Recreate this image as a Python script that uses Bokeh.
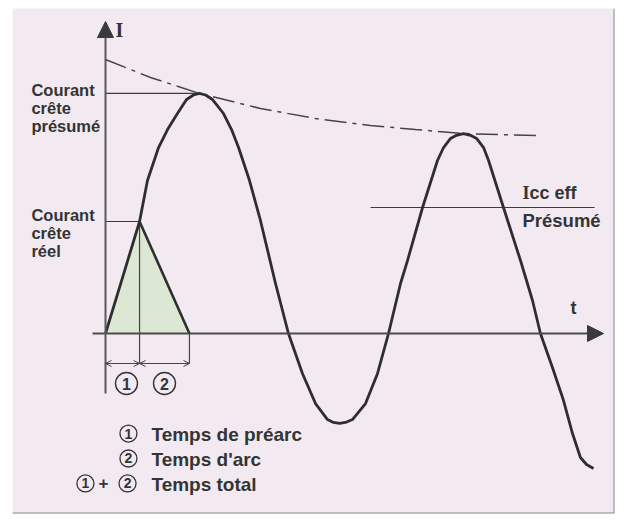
from bokeh.plotting import figure
from bokeh.models import Range1d, Arrow, NormalHead, OpenHead, Span
from bokeh.core.properties import value
from bokeh.embed import file_html
from bokeh.resources import INLINE

# ---- data (t in ms, I in kA) ----
curve_t = [0, 1.29, 2.58, 3.18, 4.02, 4.70, 5.45, 6.14, 6.67, 7.12, 7.58, 8.11, 8.94,
           9.55, 10.08, 10.91, 11.74, 12.88, 13.86, 14.92, 15.91, 16.82, 17.27, 17.73,
           18.18, 18.71, 19.70, 20.61, 21.44, 22.35, 22.88, 24.02, 25.15, 25.61, 26.14,
           26.59, 27.12, 27.65, 28.11, 28.64, 29.02, 30.15, 31.44, 32.35, 32.95, 33.86,
           34.70, 35.38, 35.98, 36.44, 36.97]
curve_i = [0, 4.44, 8.89, 12.14, 14.76, 16.19, 17.46, 18.57, 18.93, 19.05, 18.93, 18.57, 17.46,
           16.19, 14.76, 12.14, 8.97, 3.97, 0, -3.17, -5.56, -6.83, -7.06, -7.14,
           -7.06, -6.83, -5.56, -3.17, 0, 3.97, 5.79, 10.0, 13.73, 14.76, 15.48,
           15.73, 15.87, 15.73, 15.48, 14.76, 13.73, 10.0, 5.79, 2.62, 0, -2.70,
           -5.32, -7.94, -9.84, -10.40, -10.71]

env_t = [0, 3.41, 7.12, 11.74, 15.91, 20.08, 23.49, 27.12, 32.80]
env_i = [21.75, 20.32, 19.05, 17.86, 17.06, 16.51, 16.19, 15.87, 15.71]

peak_presume_t = 7.12
peak_presume_i = 19.05
peak_reel_t = 2.58
peak_reel_i = 8.89
arc_end_t = 6.36
icc_eff_i = 10.0
icc_line_t = [20.08, 37.05]

t_axis = [-0.98, 37.73]
i_axis = [-4.76, 24.76]
dim_i = -2.38

left_labels = ["Courant", "crête", "présumé", "Courant", "crête", "réel"]
left_labels_t = [-5.61] * 6
left_labels_i = [19.29, 17.86, 16.43, 9.37, 7.94, 6.51]

diag_digits = ["1", "2"]
diag_digits_t = [1.59, 4.47]
diag_digits_i = [-3.97, -3.97]

leg_digits = ["1", "2", "1", "2"]
leg_digits_t = [1.74, 1.74, -1.52, 1.67]
leg_digits_i = [-7.94, -9.92, -11.90, -11.90]
leg_text = ["Temps de préarc", "Temps d'arc", "Temps total"]
leg_text_t = [3.48, 3.48, 3.48]
leg_text_i = [-8.01, -10.00, -11.98]
plus_t, plus_i = -0.15, -11.90

# ---- figure ----
INK = "#2e2e2e"
TXT = "#343434"
FONT = value("Liberation Sans")
SERIF = value("Liberation Serif")

p = figure(width=622, height=520, output_backend="svg", toolbar_location=None,
           x_range=Range1d(-7.045, 38.561), y_range=Range1d(-14.286, 25.794),
           x_axis_location=None, y_axis_location=None,
           min_border_left=12, min_border_right=8, min_border_top=8, min_border_bottom=7)
p.grid.visible = False
p.background_fill_color = "#f2eaf0"
p.border_fill_color = "white"
p.outline_line_color = None
p.add_layout(Span(location=38.561, dimension="height", line_color="#8a8a8a", line_width=2))
p.add_layout(Span(location=-14.286, dimension="width", line_color="#8a8a8a", line_width=2))

# triangle (arc energy) fill
p.patch([0, peak_reel_t, arc_end_t], [0, peak_reel_i, 0], fill_color="#dde8d4",
        line_color=None)

# axes with arrows
p.add_layout(Arrow(end=NormalHead(size=16, fill_color="#3a3a3a", line_color="#3a3a3a"),
                   x_start=t_axis[0], y_start=0, x_end=t_axis[1], y_end=0,
                   line_color="#4a4a4a", line_width=2))
p.add_layout(Arrow(end=NormalHead(size=16, fill_color="#3a3a3a", line_color="#3a3a3a"),
                   x_start=0, y_start=i_axis[0], x_end=0, y_end=i_axis[1],
                   line_color="#5a5a5a", line_width=2))

# reference lines
p.line([0, peak_presume_t], [peak_presume_i, peak_presume_i], line_color="#3c3c3c", line_width=1.2)
p.line([0, peak_reel_t], [peak_reel_i, peak_reel_i], line_color="#3c3c3c", line_width=1.2)
p.line(icc_line_t, [icc_eff_i, icc_eff_i], line_color="#3c3c3c", line_width=1.2)
p.line([peak_reel_t, peak_reel_t], [peak_reel_i, dim_i], line_color="#444444", line_width=1.2)
p.line([arc_end_t, arc_end_t], [0, dim_i], line_color="#444444", line_width=1.2)

# dimension arrows
for a, b in [(0, peak_reel_t), (peak_reel_t, arc_end_t)]:
    p.add_layout(Arrow(start=OpenHead(size=6, line_color="#444444", line_width=1),
                       end=OpenHead(size=6, line_color="#444444", line_width=1),
                       x_start=a, y_start=dim_i, x_end=b, y_end=dim_i,
                       line_color="#444444", line_width=1))

# envelope
p.line(env_t, env_i, line_color="#444444", line_width=1.5, line_dash="22 6 4 6")

# triangle right edge and current curve
p.line([peak_reel_t, arc_end_t], [peak_reel_i, 0], line_color=INK, line_width=2.6)
p.line(curve_t, curve_i, line_color=INK, line_width=2.8, line_join="round")

# texts
p.text(left_labels_t, left_labels_i, text=left_labels, text_font=FONT, text_font_style="bold",
       text_font_size="16.5px", text_color=TXT, text_baseline="alphabetic", text_align="left")
p.text([0.76], [24.08], text=["I"], text_font=SERIF, text_font_style="bold",
       text_font_size="20px", text_color=TXT, text_baseline="alphabetic")
p.text([35.23], [1.99], text=["t"], text_font=FONT, text_font_style="bold",
       text_font_size="18px", text_color=TXT, text_baseline="alphabetic")
p.text([31.59], [11.19], text=["I"], text_font=SERIF, text_font_style="bold",
       text_font_size="18px", text_color=TXT, text_baseline="alphabetic")
p.text([32.12], [11.19], text=["cc eff"], text_font=FONT, text_font_style="bold",
       text_font_size="18px", text_color=TXT, text_baseline="alphabetic")
p.text([31.59], [8.97], text=["Présumé"], text_font=FONT, text_font_style="bold",
       text_font_size="18.5px", text_color=TXT, text_baseline="alphabetic")

# circled numbers on the diagram
p.scatter(diag_digits_t, diag_digits_i, marker="circle", size=22, fill_color=None,
          line_color=TXT, line_width=1.4)
p.text(diag_digits_t, diag_digits_i, text=diag_digits, text_font=FONT, text_font_style="bold",
       text_font_size="16px", text_color=TXT, text_align="center", text_baseline="middle")

# legend
p.scatter(leg_digits_t, leg_digits_i, marker="circle", size=17, fill_color=None,
          line_color=TXT, line_width=1.3)
p.text(leg_digits_t, leg_digits_i, text=leg_digits, text_font=FONT, text_font_style="bold",
       text_font_size="14px", text_color=TXT, text_align="center", text_baseline="middle")
p.text([plus_t], [plus_i], text=["+"], text_font=FONT, text_font_style="bold",
       text_font_size="17px", text_color=TXT, text_align="center", text_baseline="middle")
p.text(leg_text_t, leg_text_i, text=leg_text, text_font=FONT, text_font_style="bold",
       text_font_size="19px", text_color=TXT, text_baseline="alphabetic")

open("out.html", "w").write(file_html(p, INLINE))
